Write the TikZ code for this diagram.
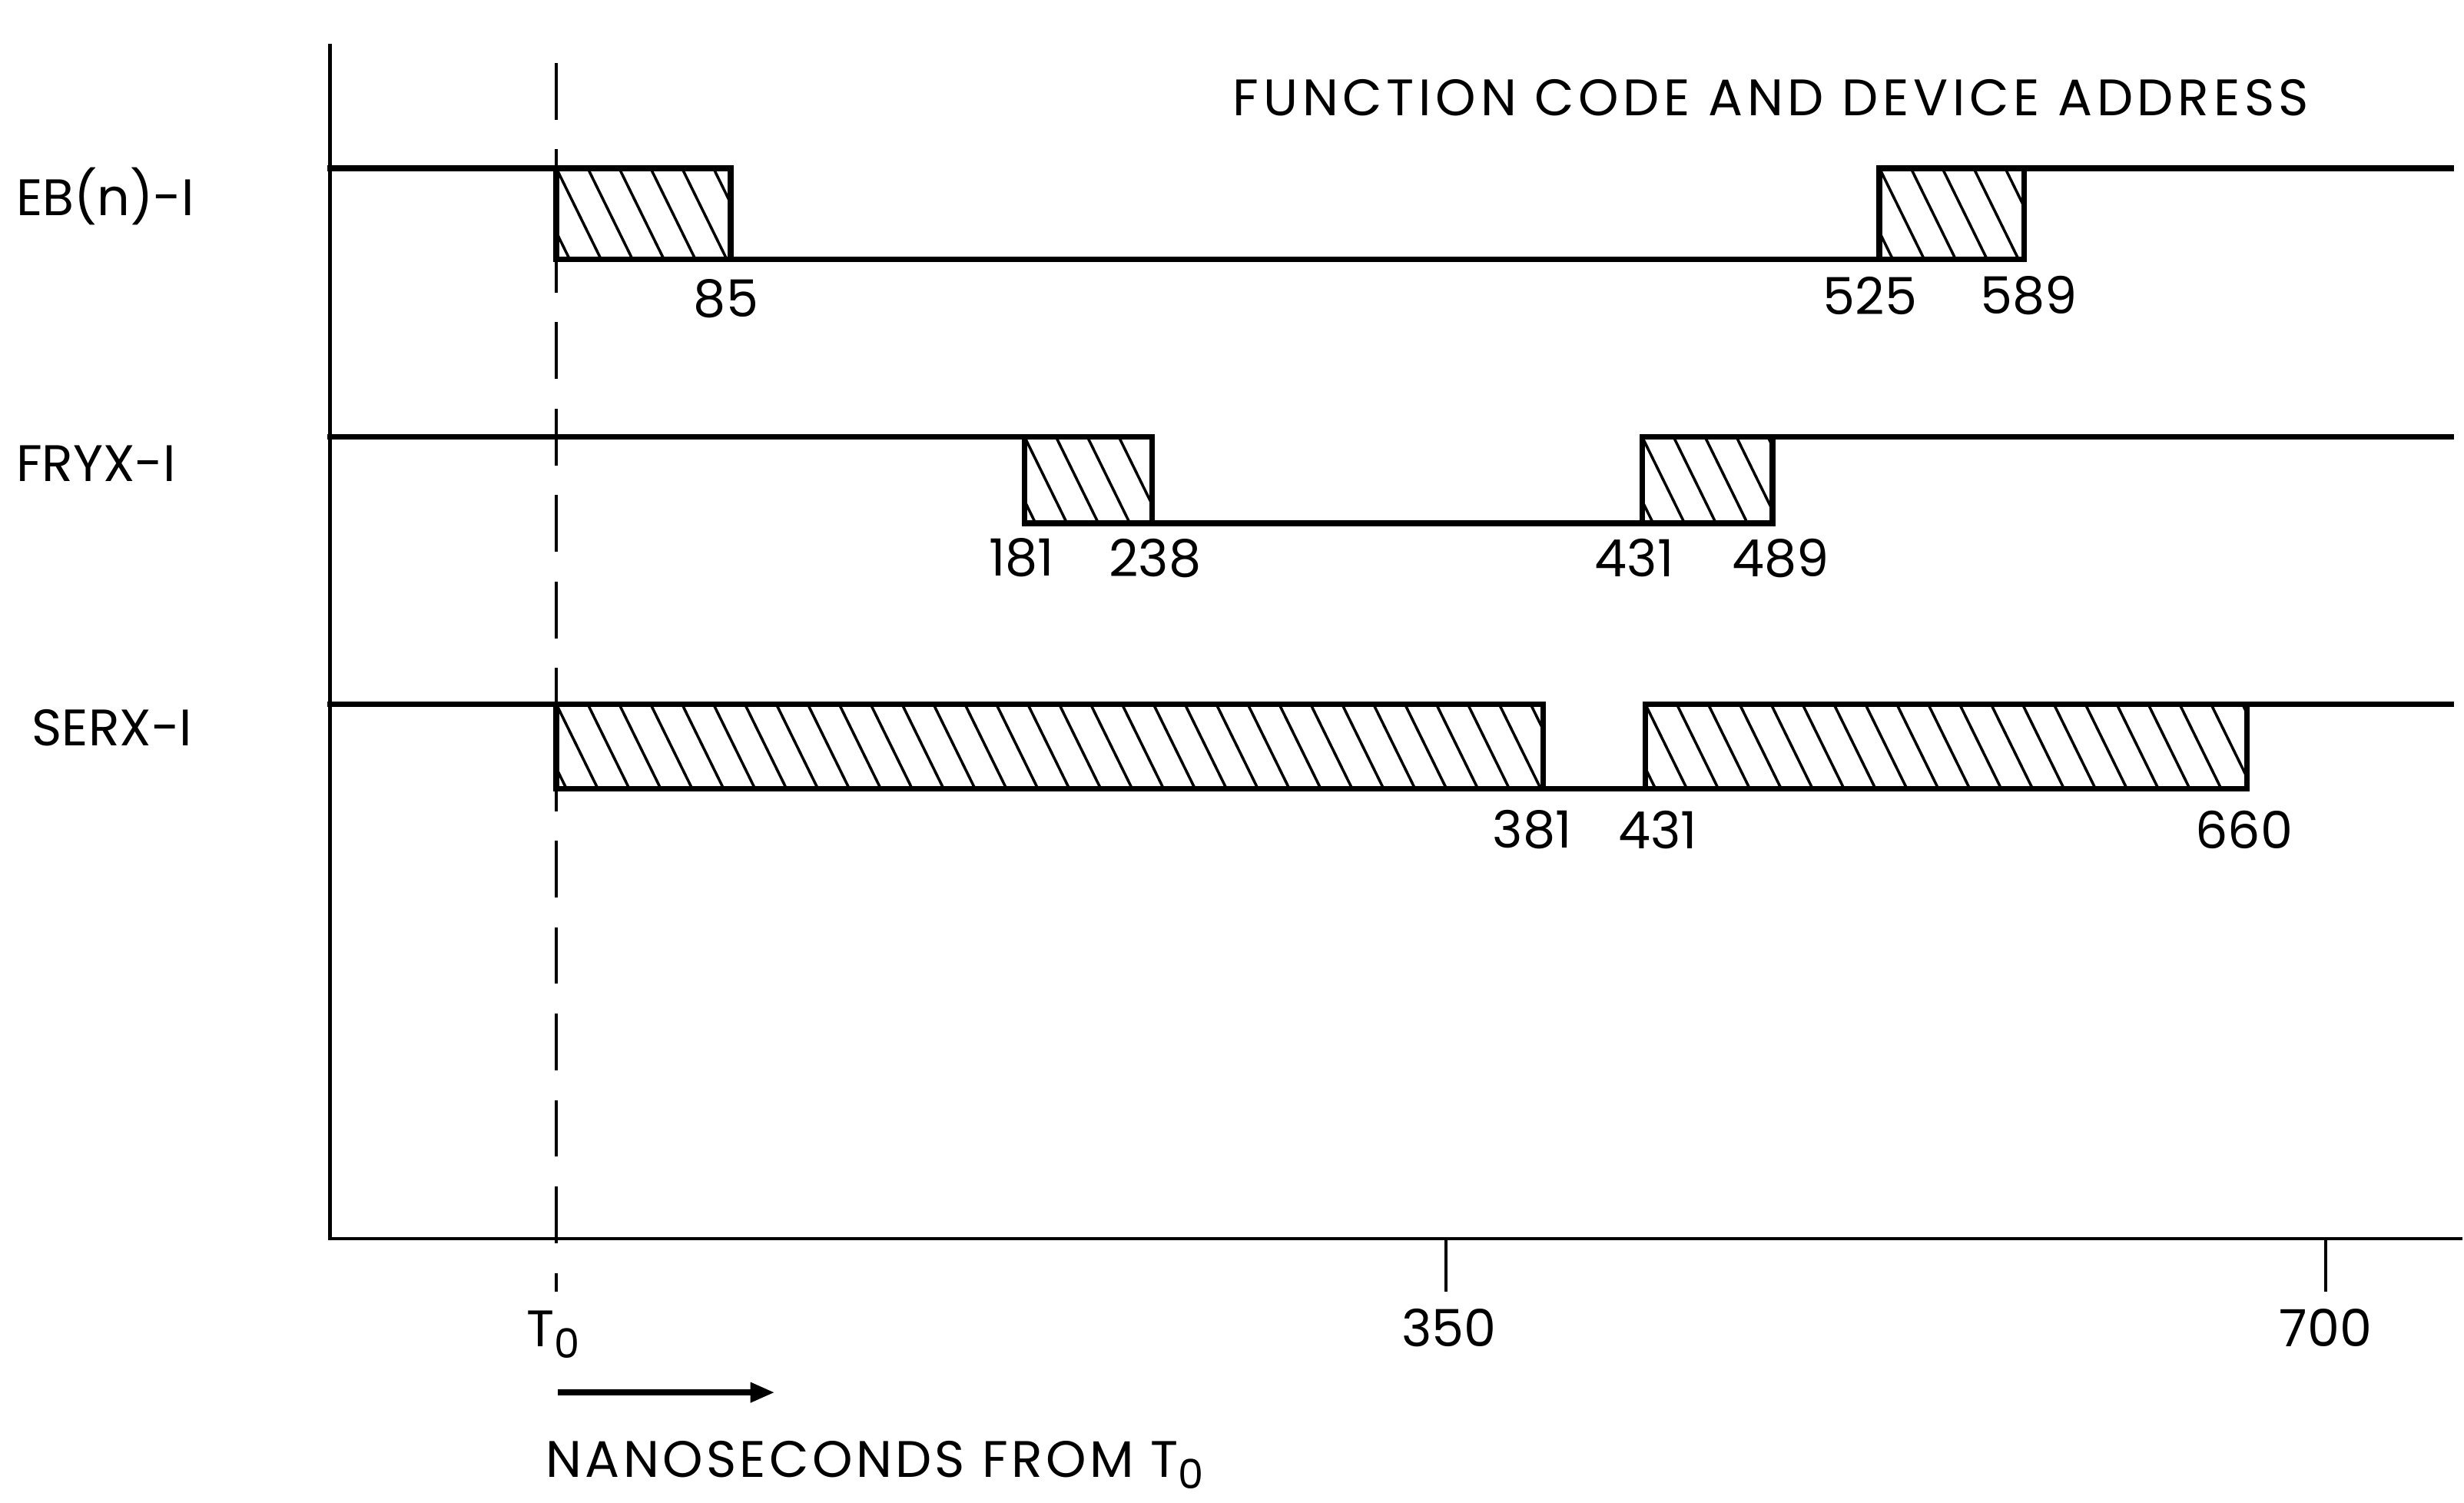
\documentclass[tikz,border=0pt]{standalone}
\usepackage{fontspec}
\setmainfont{Poppins}
\newfontfamily\widefont[LetterSpace=8.5]{Poppins}
\newfontfamily\nsfont[LetterSpace=6.5]{Poppins}
\usetikzlibrary{arrows.meta}
\newcommand\hatchbox[4]{%
  \begin{scope}
    \clip (#1,#2) rectangle (#3,#4);
    \foreach \k in {0,...,36}{%
      \pgfmathsetmacro\xx{#1+20*(\k-2)}%
      \draw[hatchline] (\xx,#2) -- ++(28,57);
    }
  \end{scope}
  \draw[sig] (#1,#2) rectangle (#3,#4);
}
\newcommand\Tzero{T\raisebox{-0.4ex}{\fontsize{15}{15}\selectfont 0}}
\begin{document}
\begin{tikzpicture}[x=0.2045mm,y=-0.2045mm,
  sig/.style={line width=2.1pt, line join=miter, line cap=rect},
  axis/.style={line width=1.2pt},
  hatchline/.style={line width=1pt},
  dashline/.style={line width=1pt, dash pattern=on 21 off 11},
  lbl/.style={font=\fontsize{19}{19}\selectfont, inner sep=0pt},
]
\useasboundingbox (0,0) rectangle (1568,956);
\fill[white] (0,0) rectangle (1568,956);

% axes
\coordinate (axtop) at (210,28);
\coordinate (orig) at (210,788);
\coordinate (axright) at (1567,788);
\draw[axis] (axtop) -- (orig) -- (axright);
\coordinate (dtop) at (354,40);
\coordinate (dbot) at (354,822);
\draw[dashline] (dtop) -- (dbot);
\coordinate (t350a) at (920,788); \coordinate (t350b) at (920,822);
\coordinate (t700a) at (1480,788); \coordinate (t700b) at (1480,822);
\draw[axis] (t350a) -- (t350b);
\draw[axis] (t700a) -- (t700b);

% EB(n)-I
\draw[sig] (210,107) -- (354,107);
\hatchbox{354}{107}{465}{165}
\draw[sig] (465,165) -- (1196,165);
\hatchbox{1196}{107}{1288}{165}
\draw[sig] (1288,107) -- (1560,107);

% FRYX-I
\draw[sig] (210,278) -- (652,278);
\hatchbox{652}{278}{733}{333}
\draw[sig] (733,333) -- (1045,333);
\hatchbox{1045}{278}{1128}{333}
\draw[sig] (1128,278) -- (1560,278);

% SERX-I
\draw[sig] (210,448) -- (354,448);
\hatchbox{354}{448}{982}{502}
\draw[sig] (982,502) -- (1047,502);
\hatchbox{1047}{448}{1430}{502}
\draw[sig] (1430,448) -- (1560,448);

% labels
\node[lbl,font=\fontsize{19}{19}\widefont] (title) at (1127,62) {FUNCTION CODE AND DEVICE ADDRESS};
\node[lbl,anchor=west] (eb) at (10,125) {EB(n)-I};
\node[lbl,anchor=west] (fryx) at (10,295) {FRYX-I};
\node[lbl,anchor=west] (serx) at (20,463) {SERX-I};

\node[lbl] (n85) at (462,190) {85};
\node[lbl] (n525) at (1190,188) {525};
\node[lbl] (n589) at (1291,188) {589};
\node[lbl] (n181) at (650,355) {181};
\node[lbl] (n238) at (735,355) {238};
\node[lbl] (n431a) at (1040,355) {431};
\node[lbl] (n489) at (1133,355) {489};
\node[lbl] (n381) at (975,528) {381};
\node[lbl] (n431b) at (1055,528) {431};
\node[lbl] (n660) at (1428,528) {660};

\node[lbl,anchor=base] (t0) at (352,857) {\Tzero};
\node[lbl,anchor=base] (l350) at (922,857) {350};
\node[lbl,anchor=base] (l700) at (1480,857) {700};

\coordinate (arrA) at (355,886);
\coordinate (arrB) at (493,886);
\draw[line width=2.2pt,-{Triangle[length=9pt,width=7pt]}] (arrA) -- (arrB);

\node[lbl,anchor=base west,font=\fontsize{19}{19}\nsfont] (ns) at (347,940) {NANOSECONDS FROM \Tzero};
\end{tikzpicture}
\end{document}
